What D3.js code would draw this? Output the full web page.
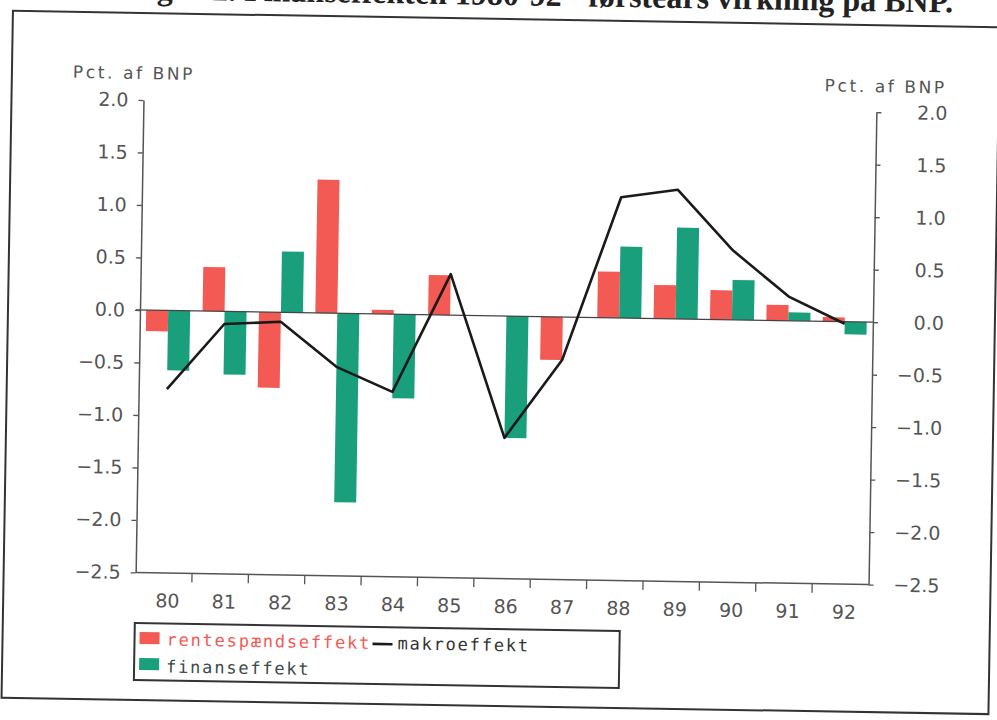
<!DOCTYPE html>
<html><head><meta charset="utf-8">
<script src="https://cdn.jsdelivr.net/npm/d3@7"></script>
<style>body{margin:0;background:#fff;} svg{display:block;}</style>
</head><body>
<svg id="c" width="997" height="720"></svg>
<script>
// ---- data ----
const years = ["80","81","82","83","84","85","86","87","88","89","90","91","92"];
const renteSpaend = [-0.20, 0.42, -0.72, 1.27, 0.04, 0.38, 0.00, -0.41, 0.44, 0.32, 0.28, 0.15, 0.04];
const finans      = [-0.57, -0.60, 0.58, -1.80, -0.80, 0.00, -1.16, 0.00, 0.68, 0.87, 0.38, 0.08, -0.12];
const makro       = [-0.75, -0.12, -0.09, -0.51, -0.74, 0.39, -1.16, -0.41, 1.15, 1.23, 0.66, 0.23, -0.02];
const yTicks = [2.0, 1.5, 1.0, 0.5, 0.0, -0.5, -1.0, -1.5, -2.0, -2.5];
const seriesNames = ["rentespændseffekt", "finanseffekt", "makroeffekt"];
const axisTitle = "Pct. af BNP";
const titleText = "Figur 2. Finanseffekten 1980-92 - førsteårs virkning på BNP.";

const RED = "#f35a53", GREEN = "#1a9f7c", AX = "#555";

const svg = d3.select("#c");
const root = svg.append("g").attr("transform", "rotate(0.95,140,310)");

// frame + title
root.append("text").attr("x", 948).attr("y", -1).attr("text-anchor", "end")
  .attr("font-family", "Liberation Serif").attr("font-weight", "bold").attr("font-size", 32)
  .attr("fill", "#222").text(titleText);
root.append("rect").attr("x", 8).attr("y", 13).attr("width", 987).attr("height", 687)
  .attr("fill", "none").attr("stroke", "#333").attr("stroke-width", 2);

const x = d3.scaleBand().domain(years).range([140, 873]);
const y = d3.scaleLinear().domain([-2.5, 2.0]).range([572.5, 100]);
const groupW = 44;
const xs = d3.scaleBand().domain(["r", "f"]).range([0, groupW]);
const off = (x.bandwidth() - groupW) / 2;

// bars
const bars = root.append("g");
bars.selectAll("rect.r").data(years).join("rect").attr("class", "r")
  .attr("x", d => x(d) + off + xs("r")).attr("width", xs.bandwidth())
  .attr("y", (d, i) => y(Math.max(0, renteSpaend[i])))
  .attr("height", (d, i) => Math.abs(y(renteSpaend[i]) - y(0)))
  .attr("fill", RED);
bars.selectAll("rect.f").data(years).join("rect").attr("class", "f")
  .attr("x", d => x(d) + off + xs("f")).attr("width", xs.bandwidth())
  .attr("y", (d, i) => y(Math.max(0, finans[i])))
  .attr("height", (d, i) => Math.abs(y(finans[i]) - y(0)))
  .attr("fill", GREEN);

// zero line
root.append("line").attr("x1", 136).attr("x2", 873).attr("y1", y(0)).attr("y2", y(0))
  .attr("stroke", "#444").attr("stroke-width", 1.3);

// makro line
const line = d3.line().x((d, i) => x(years[i]) + x.bandwidth() / 2).y(d => y(d));
root.append("path").datum(makro).attr("d", line).attr("fill", "none")
  .attr("stroke", "#1a1a1a").attr("stroke-width", 2.6).attr("stroke-linejoin", "round");

function styleAxis(g) {
  g.select(".domain").attr("stroke", AX).attr("stroke-width", 1.5);
  g.selectAll(".tick line").attr("stroke", AX).attr("stroke-width", 1.3);
  g.selectAll("text").attr("fill", "#555").attr("font-family", "DejaVu Sans").attr("font-size", 19);
}
const fmt = d => d3.format(".1f")(d);

const gl = root.append("g").attr("transform", "translate(140,0)")
  .call(d3.axisLeft(y).tickValues(yTicks).tickSize(5).tickSizeOuter(0).tickPadding(10).tickFormat(fmt));
styleAxis(gl);

const gr = root.append("g").attr("transform", "translate(873,0)")
  .call(d3.axisRight(y).tickValues(yTicks).tickSize(5).tickSizeOuter(0).tickFormat(fmt));
styleAxis(gr);
gr.selectAll("text").attr("text-anchor", "end").attr("x", 71);

const gb = root.append("g").attr("transform", `translate(0,${y(-2.5)})`)
  .call(d3.axisBottom(x).tickSize(0).tickSizeOuter(0).tickPadding(21));
styleAxis(gb);
gb.selectAll("text").attr("dx", 4);
gb.select(".domain").attr("d", `M140,0H873`);
gb.selectAll("line.sep").data(years.slice(1)).join("line").attr("class", "sep")
  .attr("x1", d => x(d)).attr("x2", d => x(d)).attr("y1", 0).attr("y2", 9)
  .attr("stroke", AX).attr("stroke-width", 1.3);

// axis titles
root.append("text").attr("x", 69).attr("y", 79).attr("font-family", "DejaVu Sans")
  .attr("font-size", 17).attr("letter-spacing", 2.6).attr("fill", "#555").text(axisTitle);
root.append("text").attr("x", 943).attr("y", 80).attr("text-anchor", "end").attr("font-family", "DejaVu Sans")
  .attr("font-size", 17).attr("letter-spacing", 2.6).attr("fill", "#555").text(axisTitle);

// legend
const lg = root.append("g");
lg.append("rect").attr("x", 140).attr("y", 623).attr("width", 485).attr("height", 57)
  .attr("fill", "#fff").attr("stroke", "#333").attr("stroke-width", 2);
const lf = {"font-family": "DejaVu Sans Mono", "font-size": 17, "letter-spacing": 1.8};
lg.append("rect").attr("x", 145).attr("y", 632).attr("width", 20).attr("height", 12).attr("fill", RED);
lg.append("text").attr("x", 172).attr("y", 645).attr("fill", RED).attrs = null;
lg.select("text").attr("font-family", lf["font-family"]).attr("font-size", lf["font-size"])
  .attr("letter-spacing", lf["letter-spacing"]).text(seriesNames[0]);
lg.append("line").attr("x1", 378).attr("x2", 398).attr("y1", 640).attr("y2", 640)
  .attr("stroke", "#1a1a1a").attr("stroke-width", 2.6);
lg.append("text").attr("x", 403).attr("y", 645).attr("fill", "#333")
  .attr("font-family", lf["font-family"]).attr("font-size", lf["font-size"])
  .attr("letter-spacing", lf["letter-spacing"]).text(seriesNames[2]);
lg.append("rect").attr("x", 145).attr("y", 658).attr("width", 20).attr("height", 12).attr("fill", GREEN);
lg.append("text").attr("x", 172).attr("y", 672).attr("fill", "#3c4a48")
  .attr("font-family", lf["font-family"]).attr("font-size", lf["font-size"])
  .attr("letter-spacing", lf["letter-spacing"]).text(seriesNames[1]);
</script>
</body></html>
